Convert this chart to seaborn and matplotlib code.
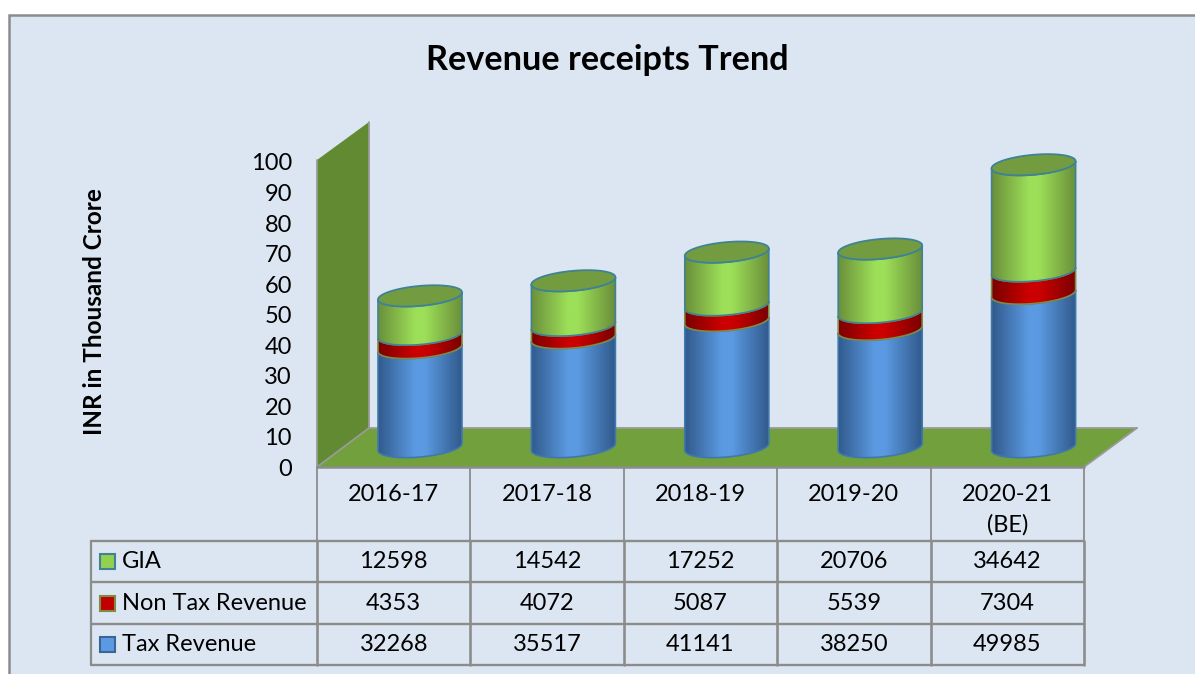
import numpy as np
import pandas as pd
import matplotlib
matplotlib.use("Agg")
import matplotlib.pyplot as plt
from matplotlib.patches import Polygon, Rectangle, PathPatch
from matplotlib.path import Path
from matplotlib.colors import LinearSegmentedColormap
import seaborn as sns

# ---------- data ----------
categories = ["2016-17", "2017-18", "2018-19", "2019-20", "2020-21\n(BE)"]
tax_revenue = [32268, 35517, 41141, 38250, 49985]
non_tax_revenue = [4353, 4072, 5087, 5539, 7304]
gia = [12598, 14542, 17252, 20706, 34642]
y_ticks = list(range(0, 101, 10))
title = "Revenue receipts Trend"
y_label = "INR in Thousand Crore"

W, H = 1195, 674
sns.set_theme(style="white")
plt.rcParams["font.family"] = ["Lato", "DejaVu Sans"]
fig = plt.figure(figsize=(W / 100, H / 100), dpi=100, facecolor="white")
BG = "#dce6f2"
GRID = "#8c8c8c"

# pixel-space backdrop
bg = fig.add_axes([0, 0, 1, 1])
bg.set_xlim(0, W); bg.set_ylim(H, 0); bg.axis("off")
bg.add_patch(Polygon([(9, 15), (1210, 15), (1210, 690), (9, 690)], closed=True,
                     facecolor=BG, edgecolor=GRID, lw=1.8))
bg.add_patch(Polygon([(317, 160), (369, 122), (369, 428), (317, 467)], closed=True,
                     facecolor="#618a33", edgecolor="none"))
bg.add_patch(Polygon([(317, 467), (1084, 467), (1137, 428), (369, 428)], closed=True,
                     facecolor="#71a03d", edgecolor="none"))
for seg in [[(317, 160), (317, 467)], [(317, 467), (369, 428)], [(369, 428), (1137, 428)],
            [(1137, 428), (1084, 467)], [(369, 122), (369, 428)]]:
    bg.plot(*zip(*seg), color="#9a9a9a", lw=1.3, solid_capstyle="round")

# value axis (tick labels only)
ay = fig.add_axes([317 / W, 1 - 467.5 / H, 767 / W, 305.5 / H], facecolor="none")
ay.set_ylim(0, 100); ay.set_xlim(0, 1)
ay.set_yticks(y_ticks); ay.set_xticks([])
ay.tick_params(axis="y", length=0, pad=18, labelsize=17, colors="black")
for s in ay.spines.values():
    s.set_visible(False)

# cylinder axes: category i centred at 420+153.4 i, value 0 at base px 447
PX_CAT, PX_VAL, X0, Y0 = 153.4, 3.07, 420.0, 447.0
ax = fig.add_axes([0, 0, 1, 1], facecolor="none")
ax.set_xlim(-X0 / PX_CAT, (W - X0) / PX_CAT)
ax.set_ylim((Y0 - H) / PX_VAL, Y0 / PX_VAL)
ax.axis("off")

df = pd.DataFrame({"cat": range(len(categories)), "tax": tax_revenue,
                   "non": non_tax_revenue, "gia": gia})
HALF_W = 42.0 / PX_CAT
B = 10.0 / PX_VAL
TILT = 3.6 / PX_VAL


def ring(i, v, t):
    return np.c_[i + HALF_W * np.cos(t), v - B * np.sin(t) + TILT * np.cos(t)]


def body_path(i, v0, v1):
    t = np.linspace(0, np.pi, 60)
    pts = np.vstack([ring(i, v0, t), ring(i, v1, t[::-1])])
    return Path(np.vstack([pts, pts[0]]), closed=True)


series = [("tax", "#5b9ae2", "#315a8c", "#3f78ad", 0),
          ("non", "#cc0000", "#7a0000", "#7f8a45", 1),
          ("gia", "#9ddf58", "#6a8f3a", "#3f8296", 2)]
bottom = np.zeros(len(df))
for key, mid, edge, line, z in series:
    vals = df[key].to_numpy() / 1000
    n0 = len(ax.patches)
    sns.barplot(x=df["cat"].to_numpy(), y=vals, bottom=bottom, native_scale=True,
                width=2 * HALF_W, color=mid, saturation=1, ax=ax, zorder=3 + z,
                linewidth=0, legend=False)
    cmap = LinearSegmentedColormap.from_list(
        key, [(0, edge), (.44, mid), (.56, mid), (1, edge)], N=256)
    grad = np.linspace(0, 1, 256)[None, :]
    for i, bar in enumerate(ax.patches[n0:]):
        v0, v1 = bottom[i], bottom[i] + vals[i]
        p = PathPatch(body_path(i, v0, v1), transform=ax.transData, facecolor="none",
                      edgecolor=line, lw=1.2, zorder=3.2 + z)
        ax.add_patch(p)
        bar.set_clip_path(p)
        im = ax.imshow(grad, extent=[i - HALF_W, i + HALF_W, v0 - 2 * B, v1 + 2 * B],
                       aspect="auto", cmap=cmap, vmin=0, vmax=1, zorder=3.1 + z)
        im.set_clip_path(p)
    bottom = bottom + vals

# top lids
t = np.linspace(0, 2 * np.pi, 120)
for i, v in enumerate(bottom):
    ax.add_patch(Polygon(ring(i, v, t), closed=True, facecolor="#739c40",
                         edgecolor="#3f8296", lw=1.3, zorder=8))
ax.set_xlim(-X0 / PX_CAT, (W - X0) / PX_CAT)
ax.set_ylim((Y0 - H) / PX_VAL, Y0 / PX_VAL)
ax.axis("off")

# data table in pixel space
tab = fig.add_axes([0, 0, 1, 1], facecolor="none")
tab.set_xlim(0, W); tab.set_ylim(H, 0); tab.axis("off")
col_x = np.linspace(317, 1084, len(categories) + 1)
row_y = [541, 582, 624, 665]
for x in col_x:
    tab.plot([x, x], [467, 541], color=GRID, lw=1.3)
    tab.plot([x, x], [541, 665], color=GRID, lw=1.9)
tab.plot([91, 91], [541, 665], color=GRID, lw=1.6)
tab.plot([317, 1084], [467, 467], color=GRID, lw=1.8)
for y in row_y:
    tab.plot([91, 1084], [y, y], color=GRID, lw=1.7)

fs = 17
for i, c in enumerate(categories):
    tab.text((col_x[i] + col_x[i + 1]) / 2, 484, c, ha="center", va="top",
             fontsize=fs, color="black", linespacing=1.5)
rows = [("GIA", gia, "#92d050", "#3f8296"),
        ("Non Tax Revenue", non_tax_revenue, "#c00000", "#7f8a45"),
        ("Tax Revenue", tax_revenue, "#5b9ae2", "#3a6496")]
for r, (name, values, fc, ec) in enumerate(rows):
    yc = (row_y[r] + row_y[r + 1]) / 2
    tab.add_patch(Rectangle((100, yc - 7.5), 15, 15, facecolor=fc, edgecolor=ec, lw=1.5))
    tab.text(122, yc, name, ha="left", va="center", fontsize=fs, color="black")
    for i, v in enumerate(values):
        tab.text((col_x[i] + col_x[i + 1]) / 2, yc, str(v), ha="center", va="center",
                 fontsize=fs, color="black")

tab.text(607, 60, title, ha="center", va="center", fontsize=24.7, fontweight="bold", color="black")
tab.text(95, 312, y_label, ha="center", va="center", rotation=90, fontsize=17.5,
         fontweight="bold", color="black")

fig.savefig("out.png", dpi=100)
